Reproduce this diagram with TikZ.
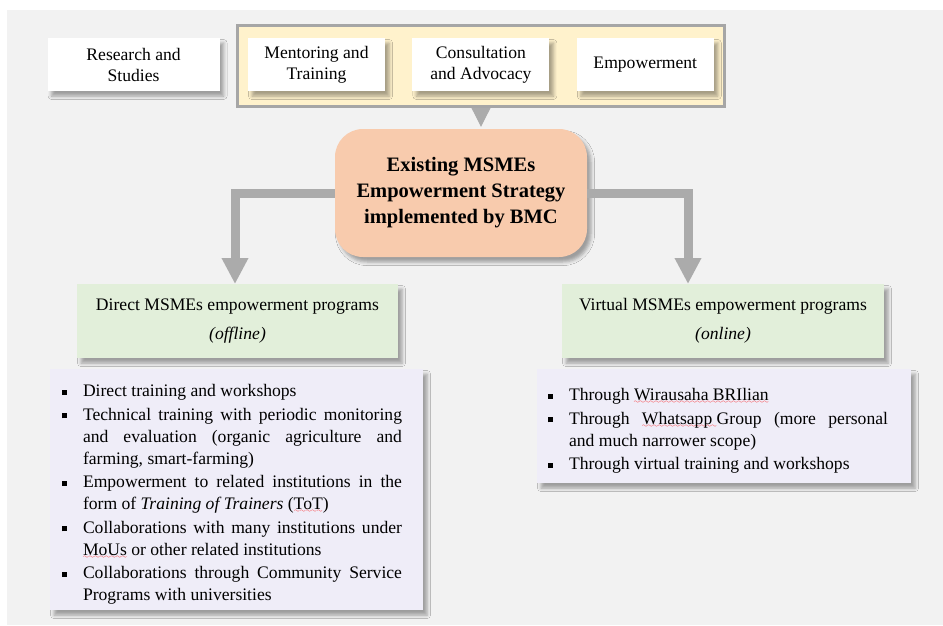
\documentclass[tikz,border=0pt]{standalone}
\usepackage{fontspec}
\setmainfont{Liberation Serif}
\usepackage{enumitem}
\usepackage{tikz}
\usetikzlibrary{arrows.meta, shadows.blur, positioning}

\definecolor{bggray}{HTML}{F2F2F2}
\definecolor{framefill}{HTML}{FFF2CC}
\definecolor{framegray}{HTML}{A6A6A6}
\definecolor{peach}{HTML}{F8CBAD}
\definecolor{sage}{HTML}{E2EFDA}
\definecolor{lavender}{HTML}{EFEDF8}
\definecolor{arrowgray}{HTML}{ABABAB}

% red wavy underline for the marked words
\font\wavefont=lasy6
\newcommand\spellmark[1]{\setbox0\hbox{#1}\rlap{\textcolor{red}{\lower3pt\hbox to\wd0{\xleaders\hbox{\wavefont\char58}\hfill}}}\box0\relax}

\setlist[itemize]{label=\rule[1.8pt]{5pt}{5pt}, leftmargin=33pt, labelsep=16pt,
  rightmargin=21pt, topsep=0pt, partopsep=0pt, parsep=0pt, itemsep=1.5pt}
\hbadness=10000

\tikzstyle{softshadow} = [blur shadow={shadow xshift=4pt, shadow yshift=-5pt, shadow blur radius=3.5pt, shadow opacity=35}]
\tikzstyle{card} = [fill=white, minimum width=137pt, minimum height=53pt, inner sep=0pt, align=center, softshadow]
\tikzstyle{core} = [fill=peach, rounded corners=28pt, minimum width=252pt, minimum height=128pt, align=center, softshadow,
  font=\fontsize{20.5}{26}\selectfont\bfseries]
\tikzstyle{program} = [fill=sage, minimum height=74pt, inner sep=0pt, align=center, softshadow]
\tikzstyle{listbox} = [fill=lavender, inner sep=0pt, align=justify, softshadow, font=\fontsize{17.6}{22}\selectfont]
\tikzstyle{feed} = [draw=arrowgray, line width=9pt, -{Triangle[width=25pt,length=26pt]}]

\begin{document}
\begin{tikzpicture}[x=1pt, y=-1pt, every node/.append style={font=\fontsize{17.6}{21}\selectfont}]
	\useasboundingbox (0,0) rectangle (943,625);
	\fill[bggray] (7,10) rectangle (943,625);
	
	% Top row: frame around the three strategy cards
	\node[draw=framegray, line width=3pt, fill=framefill, minimum width=487pt, minimum height=81pt, inner sep=0pt] (frame) at (481,66) {};
	\node[card] (mentor) at (316.5,64.5) {Mentoring and\\Training};
	\node[card, right=27pt of mentor] (consult) {Consultation\\and Advocacy};
	\node[card, right=27pt of consult] (empower) {Empowerment};
	\node[card, minimum width=172pt, left=28pt of mentor] (research) {Research and\\Studies};
	
	% Strategy in the middle
	\node[core] (core) at (461,193) {Existing MSMEs\\Empowerment Strategy\\implemented by BMC};
	\draw[arrowgray, line width=1pt, -{Triangle[width=19pt,length=19pt]}, shorten >=2pt] (frame.south) -- (frame.south |- core.north);
	
	% The two program types
	\node[program, minimum width=321pt] (direct) at (237.5,321) {Direct MSMEs empowerment programs\\[8pt]\textit{(offline)}};
	\node[program, minimum width=322pt] (virtual) at (723,321) {Virtual MSMEs empowerment programs\\[8pt]\textit{(online)}};
	
	\coordinate (leftdrop) at (235,284);
	\coordinate (rightdrop) at (688,284);
	\draw[feed] (core.west) -| (leftdrop);
	\draw[feed] (core.east) -| (rightdrop);
	
	% Lists of activities
	\node[listbox, text width=373pt, minimum height=241pt] (directlist) at (236.5,489.5) {
		\begin{itemize}
			\item Direct training and workshops
			\item Technical training with periodic monitoring\linebreak and evaluation (organic agriculture and\linebreak farming, smart-farming)
			\item Empowerment to related institutions in the\linebreak form of \textit{Training of Trainers} (\spellmark{ToT})
			\item Collaborations with many institutions under\linebreak \spellmark{MoUs} or other related institutions
			\item Collaborations through Community Service\linebreak Programs with universities
		\end{itemize}};
	\node[listbox, text width=374pt, minimum height=114pt] (virtuallist) at (724,426) {
		\begin{itemize}[leftmargin=32pt, rightmargin=23pt]
			\item Through \spellmark{Wirausaha BRIlian}
			\item Through \spellmark{Whatsapp\ }Group (more personal\linebreak and much narrower scope)
			\item Through virtual training and workshops
		\end{itemize}};
	
\end{tikzpicture}
\end{document}
